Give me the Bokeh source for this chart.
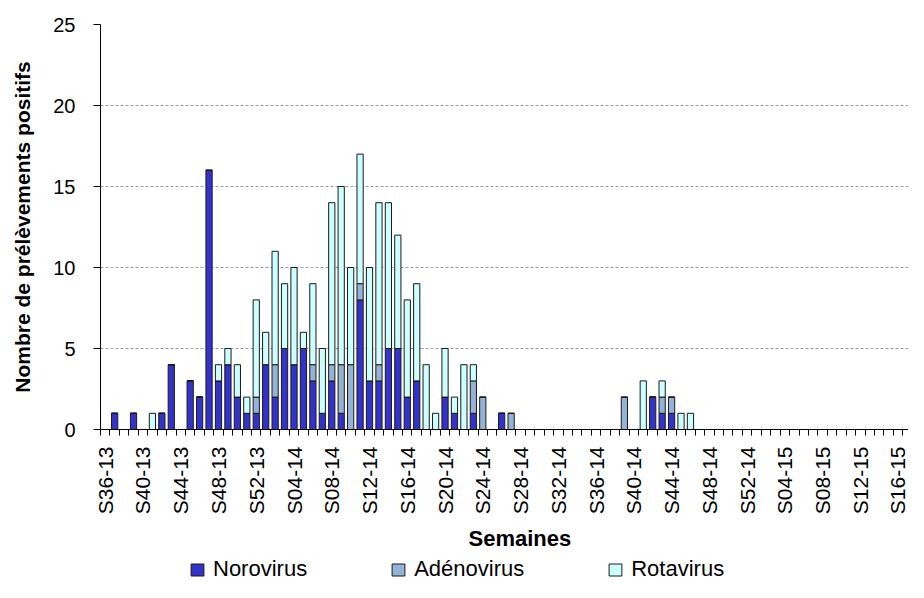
import math
from bokeh.plotting import figure
from bokeh.layouts import column
from bokeh.models import ColumnDataSource, Range1d, FixedTicker, Legend, LegendItem, Title
from bokeh.embed import file_html
from bokeh.resources import INLINE

# ---- categories (ISO weeks S36-13 .. S18-15) ----
weeks = ([f"S{w:02d}-13" for w in range(36, 53)]
         + [f"S{w:02d}-14" for w in range(1, 53)]
         + [f"S{w:02d}-15" for w in range(1, 19)])

tick_labels = ["S36-13", "S40-13", "S44-13", "S48-13", "S52-13",
               "S04-14", "S08-14", "S12-14", "S16-14", "S20-14", "S24-14",
               "S28-14", "S32-14", "S36-14", "S40-14", "S44-14", "S48-14",
               "S52-14", "S04-15", "S08-15", "S12-15", "S16-15"]

# ---- series values ----
norovirus = ([0, 1, 0, 1, 0, 0, 1, 4, 0, 3, 2, 16, 3, 4, 2, 1, 1]          # S36-S52 2013
             + [4, 2, 5, 4, 5, 3, 1, 3, 1, 0, 8, 3, 3, 5, 5, 2, 3, 0, 0,
                2, 1, 0, 1, 0, 0, 1, 0]                                    # S01-S27 2014
             + [0] * 11                                                    # S28-S38
             + [0, 0, 0, 2, 1, 1, 0, 0]                                    # S39-S46
             + [0] * 6                                                     # S47-S52
             + [0] * 18)                                                   # 2015

adenovirus = ([0, 0, 0, 0, 0, 0, 0, 0, 0, 0, 0, 0, 0, 0, 0, 0, 1]
              + [0, 2, 0, 0, 0, 1, 0, 1, 3, 4, 1, 0, 1, 0, 0, 0, 0, 0, 0,
                 0, 0, 0, 2, 2, 0, 0, 1]
              + [0] * 11
              + [2, 0, 0, 0, 1, 1, 0, 0]
              + [0] * 6
              + [0] * 18)

rotavirus = ([0, 0, 0, 0, 0, 1, 0, 0, 0, 0, 0, 0, 1, 1, 2, 1, 6]
             + [2, 7, 4, 6, 1, 5, 4, 10, 11, 6, 8, 7, 10, 9, 7, 6, 6, 4, 1,
                3, 1, 4, 1, 0, 0, 0, 0]
             + [0] * 11
             + [0, 0, 3, 0, 1, 0, 1, 1]
             + [0] * 6
             + [0] * 18)

series_names = ["Norovirus", "Adénovirus", "Rotavirus"]
colors = ["#3333cc", "#95b3d7", "#ccffff"]
OUTLINE = "#1a1a1a"
FONT = "Liberation Sans"

N = len(weeks)
xs = [i + 0.5 for i in range(N)]
src = ColumnDataSource(dict(x=xs, week=weeks, noro=norovirus,
                            adeno=adenovirus, rota=rotavirus))

p = figure(width=908, height=556, output_backend="svg", toolbar_location=None,
           x_range=Range1d(0, 85.6), y_range=Range1d(0, 25),
           min_border_left=100, min_border_right=0, min_border_top=24,
           min_border_bottom=127)
p.outline_line_color = None
p.background_fill_color = "white"

rs = p.vbar_stack(["noro", "adeno", "rota"], x="x", width=0.66, source=src,
                  fill_color=colors, line_color=OUTLINE, line_width=1)

# ---- x axis ----
label_pos = {weeks.index(t) + 0.5: t for t in tick_labels}
xa = p.xaxis[0]
xa.ticker = FixedTicker(ticks=list(label_pos.keys()), minor_ticks=list(range(N + 1)))
xa.major_label_overrides = label_pos
xa.major_label_orientation = math.pi / 2
xa.major_tick_out = 0
xa.major_tick_in = 0
xa.minor_tick_out = 6
xa.minor_tick_in = 0
xa.minor_tick_line_color = "black"
xa.axis_line_color = "black"
xa.major_label_standoff = 11
xa.major_label_text_font = FONT
xa.major_label_text_font_size = "21px"
xa.major_label_text_color = "black"

# x axis title, below the tick labels
p.add_layout(Title(text="Semaines", align="left", offset=368, standoff=12,
                   text_font=FONT, text_font_style="bold", text_font_size="22px",
                   text_color="black"), "below")

# ---- y axis ----
ya = p.yaxis[0]
ya.ticker = FixedTicker(ticks=[0, 5, 10, 15, 20, 25])
ya.major_tick_out = 7
ya.major_tick_in = 0
ya.minor_tick_out = 0
ya.minor_tick_in = 0
ya.axis_line_color = "black"
ya.major_tick_line_color = "black"
ya.major_label_standoff = 18
ya.major_label_text_font = FONT
ya.major_label_text_font_size = "20px"
ya.major_label_text_color = "black"
ya.axis_label = "Nombre de prélèvements positifs"
ya.axis_label_text_font = FONT
ya.axis_label_text_font_style = "bold"
ya.axis_label_text_font_size = "21px"
ya.axis_label_text_color = "black"
ya.axis_label_standoff = 16

# ---- grid ----
p.xgrid.visible = False
p.ygrid.ticker = FixedTicker(ticks=[5, 10, 15, 20, 25])
p.ygrid.grid_line_color = "#9a9a9a"
p.ygrid.grid_line_dash = "3 2"
p.ygrid.grid_line_width = 1

# ---- legend strip (separate small figure below the chart) ----
lf = figure(width=908, height=26, output_backend="svg", toolbar_location=None,
            x_range=Range1d(0, 1), y_range=Range1d(0, 1),
            x_axis_type=None, y_axis_type=None,
            min_border_left=0, min_border_right=0, min_border_top=0, min_border_bottom=0)
lf.outline_line_color = None
lf.xgrid.visible = False
lf.ygrid.visible = False
# legend swatches: renderers whose single bar lies below the visible range
dummies = [lf.vbar(x=[0.5], top=[-3], bottom=[-4], width=0.1,
                   fill_color=c, line_color=OUTLINE, line_width=1)
           for c in colors]
legend = Legend(items=[LegendItem(label=n, renderers=[r]) for n, r in zip(series_names, dummies)],
                orientation="horizontal", location=(89, 0),
                glyph_width=16, glyph_height=15, label_standoff=8, spacing=83,
                padding=0, margin=0, border_line_color=None,
                background_fill_alpha=0, label_text_font=FONT,
                label_text_font_size="22px", label_text_color="black")
lf.add_layout(legend)

open("out.html", "w").write(file_html(column(p, lf), INLINE))
